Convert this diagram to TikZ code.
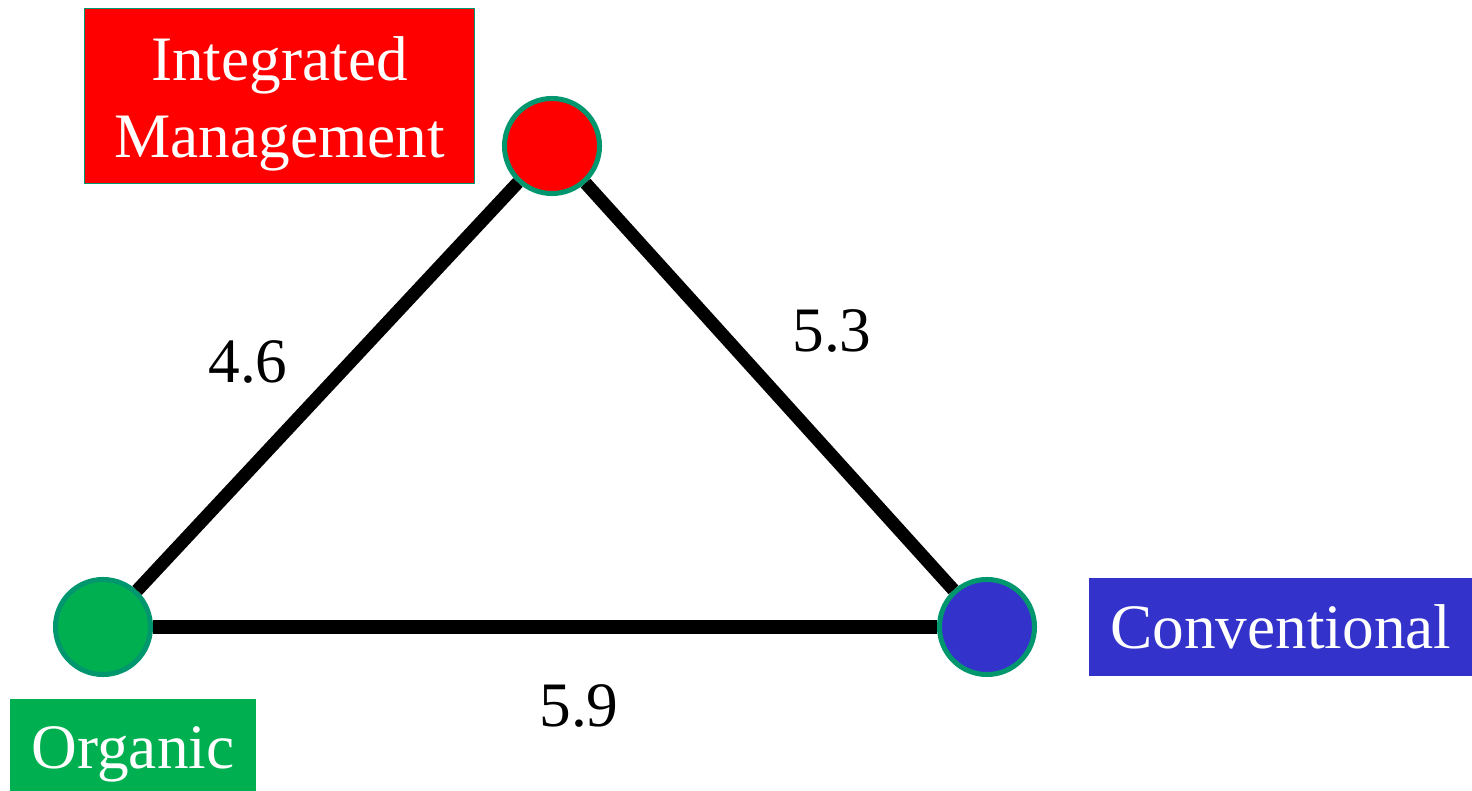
\documentclass[tikz,border=0pt]{standalone}
\usepackage{fontspec}
\setmainfont{Liberation Serif}
\usetikzlibrary{positioning}

\definecolor{rimgreen}{RGB}{0,150,110}
\definecolor{orggreen}{RGB}{0,176,80}
\definecolor{convblue}{RGB}{51,51,204}

\begin{document}
\begin{tikzpicture}[
    x=0.01cm, y=-0.01cm,
    dot/.style={
        circle,
        draw=rimgreen,
        line width=0.05cm,
        inner sep=0pt,
        minimum size=0.95cm
    },
    tag/.style={
        align=center,
        text=white,
        inner sep=0pt,
        font=\fontsize{18}{22}\selectfont
    },
    val/.style={
        font=\fontsize{18}{22}\selectfont
    },
    link/.style={line width=0.13cm}
]

\clip (0,0) rectangle (1472,791);

\node[dot, fill=red] (im) at (552,146) {};
\node[dot, fill=orggreen] (org) at (103,627) {};
\node[dot, fill=convblue] (conv) at (987,627) {};

\draw[link] (org) -- (im);
\draw[link] (im) -- (conv);
\draw[link] (org) -- (conv);

\node[tag, fill=red, draw=rimgreen, line width=0.015cm,
      minimum width=3.9cm, minimum height=1.75cm] (imtag) at (279.5,96)
      {\rule{0pt}{0.6cm}Integrated\\Management};
\node[tag, fill=orggreen, minimum width=2.46cm, minimum height=1.1cm]
      (orgtag) at (133,754) {Organic};
\node[tag, fill=convblue, minimum width=3.84cm, minimum height=0.98cm]
      (convtag) at (1281,627) {Conventional};

\node[val] (d1) at (248,362) {4.6};
\node[val] (d2) at (832,331) {5.3};
\node[val] (d3) at (579,706) {5.9};

\end{tikzpicture}
\end{document}
